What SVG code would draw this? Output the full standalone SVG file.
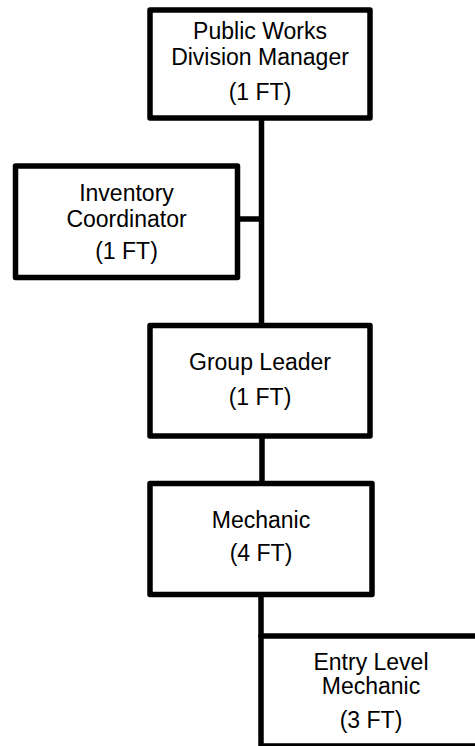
<svg xmlns="http://www.w3.org/2000/svg" width="475" height="746" viewBox="0 0 475 746">
<style>
.box{fill:#fff;stroke:#000;stroke-width:5.5;stroke-linejoin:round}
.conn{stroke:#000;stroke-width:5.5;fill:none}
text{font-family:"Liberation Sans",Arial,sans-serif;font-size:23px;fill:#000;text-anchor:middle}
</style>
<rect width="475" height="746" fill="#fff"/>
<g id="connectors">
<line class="conn" x1="261.5" y1="118" x2="261.5" y2="326"/>
<line class="conn" x1="237.5" y1="219" x2="261.5" y2="219"/>
<line class="conn" x1="262" y1="436" x2="262" y2="484"/>
<line class="conn" x1="261" y1="594" x2="261" y2="637"/>
</g>
<g id="manager">
<rect class="box" x="150" y="10" width="220" height="108"/>
<text x="260" y="39">Public Works</text>
<text x="260" y="65">Division Manager</text>
<text x="260" y="100">(1 FT)</text>
</g>
<g id="inventory">
<rect class="box" x="15.5" y="166" width="222" height="111.5"/>
<text x="126.5" y="201">Inventory</text>
<text x="126.5" y="227">Coordinator</text>
<text x="126.5" y="259">(1 FT)</text>
</g>
<g id="group-leader">
<rect class="box" x="150" y="325.5" width="220" height="110.5"/>
<text x="260" y="370">Group Leader</text>
<text x="260" y="405">(1 FT)</text>
</g>
<g id="mechanic">
<rect class="box" x="150" y="483.5" width="222" height="111"/>
<text x="261" y="528">Mechanic</text>
<text x="261" y="561">(4 FT)</text>
</g>
<g id="entry">
<rect class="box" x="261" y="636" width="220" height="110"/>
<text x="371" y="670">Entry Level</text>
<text x="371" y="694">Mechanic</text>
<text x="371" y="728">(3 FT)</text>
</g>
</svg>
